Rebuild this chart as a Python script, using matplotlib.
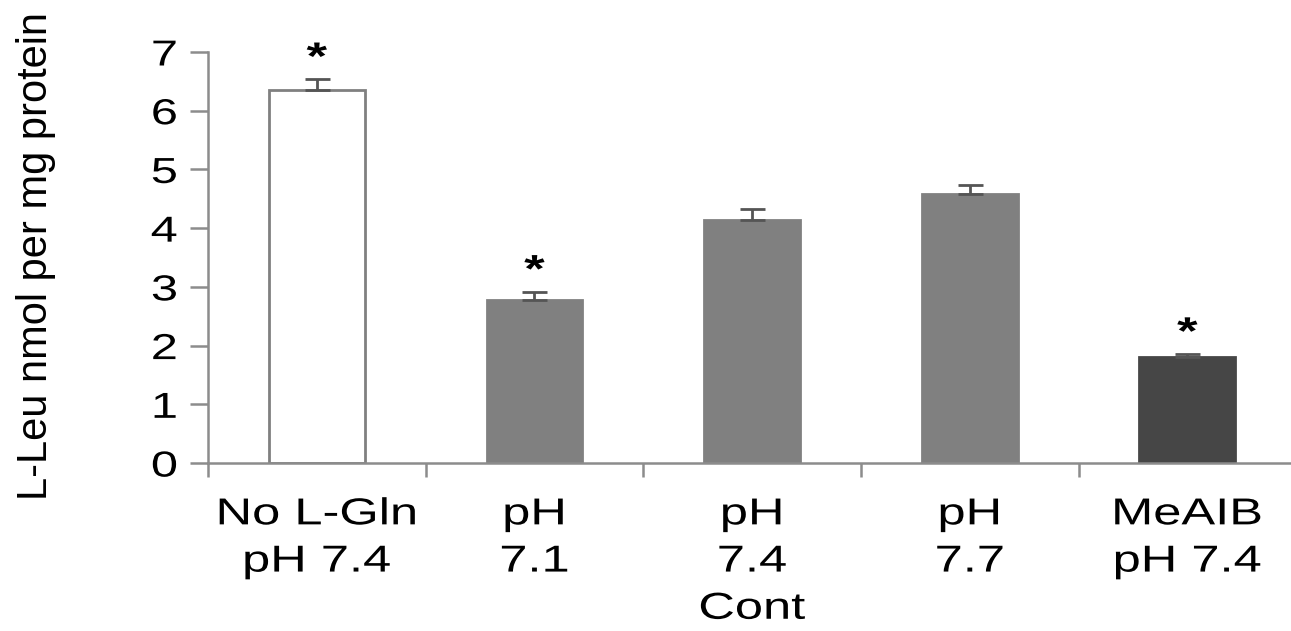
import matplotlib.pyplot as plt
import numpy as np
from matplotlib.patheffects import AbstractPathEffect
from matplotlib.transforms import Affine2D

plt.rcParams['font.family'] = ['Liberation Sans', 'DejaVu Sans']

groups = ["No L-Gln\npH 7.4", "pH\n7.1", "pH\n7.4\nCont", "pH\n7.7", "MeAIB\npH 7.4"]
leu_uptake = [6.35, 2.78, 4.14, 4.58, 1.81]
sem = [0.19, 0.14, 0.19, 0.16, 0.05]
significant = [True, True, False, False, True]
bar_colors = ['white', '#808080', '#808080', '#808080', '#464646']
edge_colors = ['#808080', '#808080', '#808080', '#808080', '#464646']


class HStretch(AbstractPathEffect):
    """Widen glyphs horizontally about a chosen anchor."""

    def __init__(self, sx=1.35, anchor='center'):
        super().__init__()
        self.sx = sx
        self.anchor = anchor

    def draw_path(self, renderer, gc, tpath, affine, rgbFace=None):
        ext = tpath.get_extents(affine)
        x0 = {'center': (ext.x0 + ext.x1) / 2, 'right': ext.x1, 'left': ext.x0}[self.anchor]
        stretch = Affine2D().translate(-x0, 0).scale(self.sx, 1).translate(x0, 0)
        renderer.draw_path(gc, tpath, affine + stretch, rgbFace)


fig = plt.figure(figsize=(12.91, 6.31), dpi=100)
ax = fig.add_axes([0.1611, 0.2662, 0.8429, 0.6514])

x = np.arange(len(groups))
ax.bar(x, leu_uptake, width=0.44, color=bar_colors, edgecolor=edge_colors,
       linewidth=2, zorder=2)
ax.errorbar(x, leu_uptake, yerr=[np.zeros(len(sem)), sem], fmt='none',
            ecolor='#555555', elinewidth=2, capsize=9, capthick=2, zorder=3)

for xi, val, err, sig in zip(x, leu_uptake, sem, significant):
    if sig:
        ax.annotate('*', (xi, val + err), xytext=(0, 7), textcoords='offset points',
                    ha='center', va='baseline', fontsize=28, fontweight='bold',
                    path_effects=[HStretch()])

ax.set_xlim(-0.5, 4.5)
ax.set_ylim(0, 7)
ax.set_yticks(range(0, 8))
ax.tick_params(axis='y', labelsize=26, length=13, width=1.8, color='#8c8c8c', pad=9)

# boundaries get tick marks, category centres get the labels
ax.set_xticks(np.arange(-0.5, 5.0, 1.0))
ax.set_xticklabels([])
ax.tick_params(axis='x', which='major', length=10, width=1.8, color='#8c8c8c')
ax.set_xticks(x, minor=True)
ax.set_xticklabels(groups, minor=True, fontsize=27, linespacing=1.4)
ax.tick_params(axis='x', which='minor', length=0, pad=24)

for side in ['top', 'right']:
    ax.spines[side].set_visible(False)
for side in ['left', 'bottom']:
    ax.spines[side].set_color('#8c8c8c')
    ax.spines[side].set_linewidth(1.8)

for lab in ax.get_yticklabels():
    lab.set_path_effects([HStretch(anchor='right')])
for lab in ax.get_xticklabels(minor=True):
    lab.set_path_effects([HStretch()])

fig.text(36 / 1291, 1 - 256 / 631, 'L-Leu nmol per mg protein', rotation=90,
         ha='center', va='center', fontsize=30)

fig.savefig('out.png', dpi=100)
